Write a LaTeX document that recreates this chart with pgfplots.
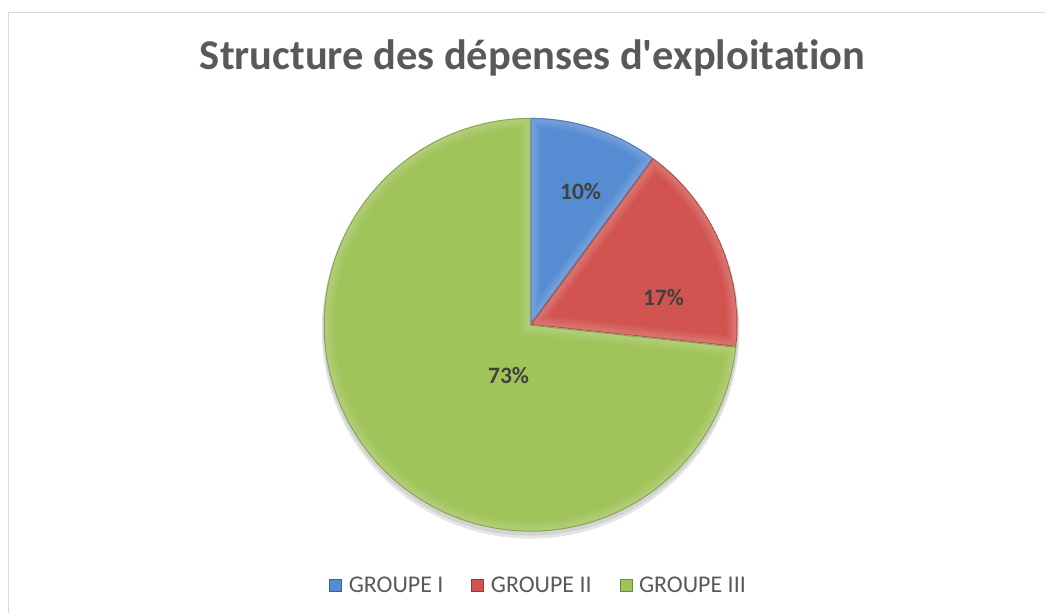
\documentclass[border=0pt]{standalone}
\usepackage{pgfplots}
\pgfplotsset{compat=1.18}
\usepackage{pgfplotstable}
\usepackage{fontspec}
\setmainfont{Carlito}[Ligatures={TeXOff,NoCommon}]
\definecolor{gI}{RGB}{86,140,210}
\definecolor{gII}{RGB}{210,84,80}
\definecolor{gIII}{RGB}{160,196,90}
\definecolor{titlegray}{RGB}{89,89,89}
\definecolor{labelgray}{RGB}{64,64,64}
\definecolor{framegray}{RGB}{217,217,217}

\pgfplotstableread{
group value
I 10.1
II 16.6
III 73.3
}\piedata
\pgfplotstablegetelem{0}{value}\of\piedata \let\vA\pgfplotsretval
\pgfplotstablegetelem{1}{value}\of\piedata \let\vB\pgfplotsretval
\pgfplotstablegetelem{2}{value}\of\piedata \let\vC\pgfplotsretval
\pgfmathsetmacro\aA{90}
\pgfmathsetmacro\aB{\aA-3.6*\vA}
\pgfmathsetmacro\aC{\aB-3.6*\vB}
\pgfmathsetmacro\aD{\aC-3.6*\vC}

\newcommand\slicepath[2]{(axis cs:531,325) -- ++(#1:207pt) arc[start angle=#1,end angle=#2,radius=207pt] -- cycle}
\newcommand\slice[3]{%
  \begin{scope}
    \clip \slicepath{#1}{#2};
    \fill[#3] \slicepath{#1}{#2};
    \draw[line width=20pt, white, opacity=0.05] \slicepath{#1}{#2};
    \draw[line width=15pt, white, opacity=0.05] \slicepath{#1}{#2};
    \draw[line width=10pt, white, opacity=0.06] \slicepath{#1}{#2};
    \draw[line width=5pt, white, opacity=0.06] \slicepath{#1}{#2};
    \draw[line width=2pt, #3!70!black, opacity=0.6] \slicepath{#1}{#2};
  \end{scope}}

\begin{document}
\begin{tikzpicture}
\begin{axis}[
  width=1046pt, height=613pt, scale only axis,
  xmin=0, xmax=1046, ymin=0, ymax=613, y dir=reverse,
  hide axis, clip=false,
  legend columns=3,
  legend style={at={(axis cs:538,586)}, anchor=center, draw=none, fill=none,
    font=\fontsize{24}{28}\selectfont, text=titlegray,
    nodes={inner sep=0pt},
    /tikz/every odd column/.append style={column sep=7pt},
    /tikz/every even column/.append style={column sep=28pt},
    inner sep=0pt},
  legend image code/.code={\draw[#1] (0pt,-6pt) rectangle (12pt,6pt);},
]
\path (axis cs:0,0) rectangle (axis cs:1046,613);
\draw[framegray, line width=1.5pt] (axis cs:8.5,613) -- (axis cs:8.5,12.5) -- (axis cs:1046,12.5);
\node[anchor=base, font=\fontsize{42.5}{48}\selectfont\bfseries, text=titlegray] at (axis cs:533,70) {Structure des dépenses d'exploitation};
% shadow
\fill[black, opacity=0.10] (axis cs:531,330) circle[radius=209pt];
\fill[black, opacity=0.08] (axis cs:531,328) circle[radius=208pt];
\slice{\aA}{\aB}{gI}
\slice{\aB}{\aC}{gII}
\slice{\aC}{\aD}{gIII}
\node[font=\fontsize{23.5}{27}\selectfont\bfseries, text=labelgray] at (axis cs:581,192) {10\%};
\node[font=\fontsize{23.5}{27}\selectfont\bfseries, text=labelgray] at (axis cs:664,298) {17\%};
\node[font=\fontsize{23.5}{27}\selectfont\bfseries, text=labelgray] at (axis cs:509,376) {73\%};
\addlegendimage{fill=gI, draw=gI!70!black}
\addlegendentry{GROUPE I}
\addlegendimage{fill=gII, draw=gII!70!black}
\addlegendentry{GROUPE II}
\addlegendimage{fill=gIII, draw=gIII!70!black}
\addlegendentry{GROUPE III}
\end{axis}
\end{tikzpicture}
\end{document}
